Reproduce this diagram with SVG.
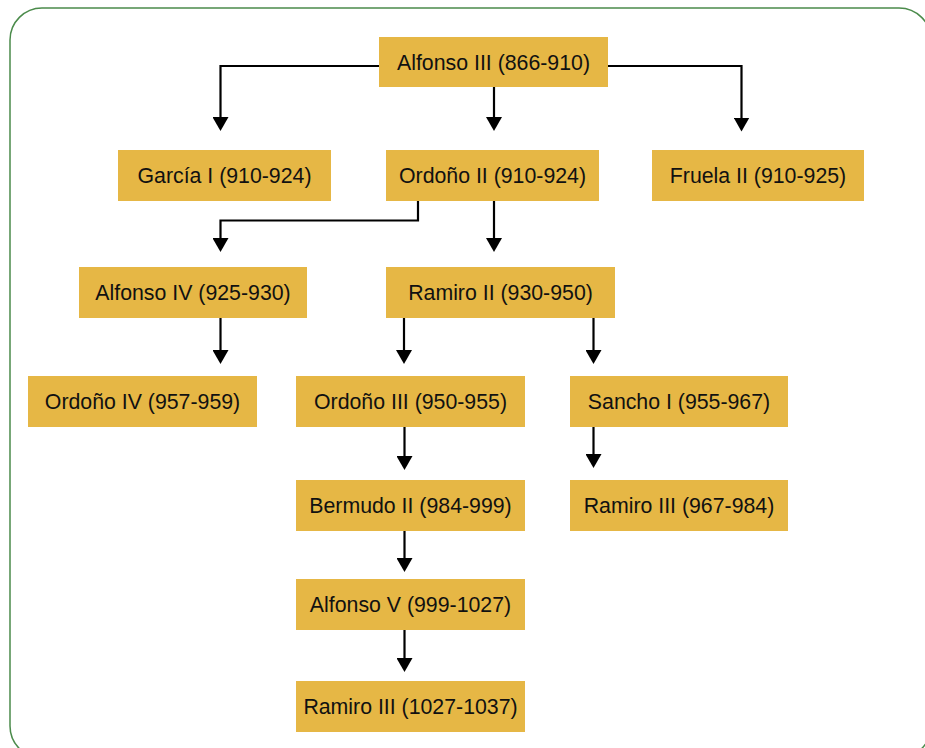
<svg xmlns="http://www.w3.org/2000/svg" width="925" height="748" viewBox="0 0 925 748">
<style>
.box{fill:#E6B745;}
.lbl{font-family:"Liberation Sans",Arial,sans-serif;font-size:21.3px;fill:#111;text-anchor:middle;}
.con{fill:none;stroke:#000;stroke-width:2.2;}
</style>
<defs>
<marker id="arr" markerUnits="userSpaceOnUse" markerWidth="14" markerHeight="16" viewBox="0 0 14 16" refX="10" refY="8" orient="auto">
<path d="M0,0 L14,8 L0,16 z" fill="#000"/>
</marker>
</defs>
<rect x="10" y="8" width="921" height="750" rx="32" ry="32" fill="#fff" stroke="#4b8b4b" stroke-width="1.5"/>
<g id="connectors">
<path class="con" d="M379,66 H220.5 V127" marker-end="url(#arr)"/>
<path class="con" d="M494,87 V127" marker-end="url(#arr)"/>
<path class="con" d="M608,66 H741.5 V127.5" marker-end="url(#arr)"/>
<path class="con" d="M418,201 V220.5 H220.5 V248" marker-end="url(#arr)"/>
<path class="con" d="M494,201 V248" marker-end="url(#arr)"/>
<path class="con" d="M220.5,318 V360" marker-end="url(#arr)"/>
<path class="con" d="M404,318 V360" marker-end="url(#arr)"/>
<path class="con" d="M593.5,318 V360" marker-end="url(#arr)"/>
<path class="con" d="M404.5,427 V466" marker-end="url(#arr)"/>
<path class="con" d="M593.5,427 V464" marker-end="url(#arr)"/>
<path class="con" d="M404.5,531 V568" marker-end="url(#arr)"/>
<path class="con" d="M404.5,630 V668" marker-end="url(#arr)"/>
</g>
<g id="alfonso3"><rect class="box" x="379" y="37" width="229" height="50"/><text class="lbl" x="493.5" y="69.5">Alfonso III (866-910)</text></g>
<g id="garcia1"><rect class="box" x="118" y="150" width="213" height="51"/><text class="lbl" x="224.5" y="183">García I (910-924)</text></g>
<g id="ordono2"><rect class="box" x="386" y="150" width="213" height="51"/><text class="lbl" x="492.5" y="183">Ordoño II (910-924)</text></g>
<g id="fruela2"><rect class="box" x="652" y="150" width="212" height="51"/><text class="lbl" x="758" y="183">Fruela II (910-925)</text></g>
<g id="alfonso4"><rect class="box" x="79" y="267" width="228" height="51"/><text class="lbl" x="193" y="300">Alfonso IV (925-930)</text></g>
<g id="ramiro2"><rect class="box" x="386" y="267" width="229" height="51"/><text class="lbl" x="500.5" y="300">Ramiro II (930-950)</text></g>
<g id="ordono4"><rect class="box" x="28" y="376" width="229" height="51"/><text class="lbl" x="142.5" y="409">Ordoño IV (957-959)</text></g>
<g id="ordono3"><rect class="box" x="296" y="376" width="229" height="51"/><text class="lbl" x="410.5" y="409">Ordoño III (950-955)</text></g>
<g id="sancho1"><rect class="box" x="570" y="376" width="218" height="51"/><text class="lbl" x="679" y="409">Sancho I (955-967)</text></g>
<g id="ramiro3a"><rect class="box" x="570" y="480" width="218" height="51"/><text class="lbl" x="679" y="513">Ramiro III (967-984)</text></g>
<g id="bermudo2"><rect class="box" x="296" y="480" width="229" height="51"/><text class="lbl" x="410.5" y="513">Bermudo II (984-999)</text></g>
<g id="alfonso5"><rect class="box" x="296" y="579" width="229" height="51"/><text class="lbl" x="410.5" y="612">Alfonso V (999-1027)</text></g>
<g id="ramiro3b"><rect class="box" x="296" y="681" width="229" height="51"/><text class="lbl" x="410.5" y="714">Ramiro III (1027-1037)</text></g>
</svg>
